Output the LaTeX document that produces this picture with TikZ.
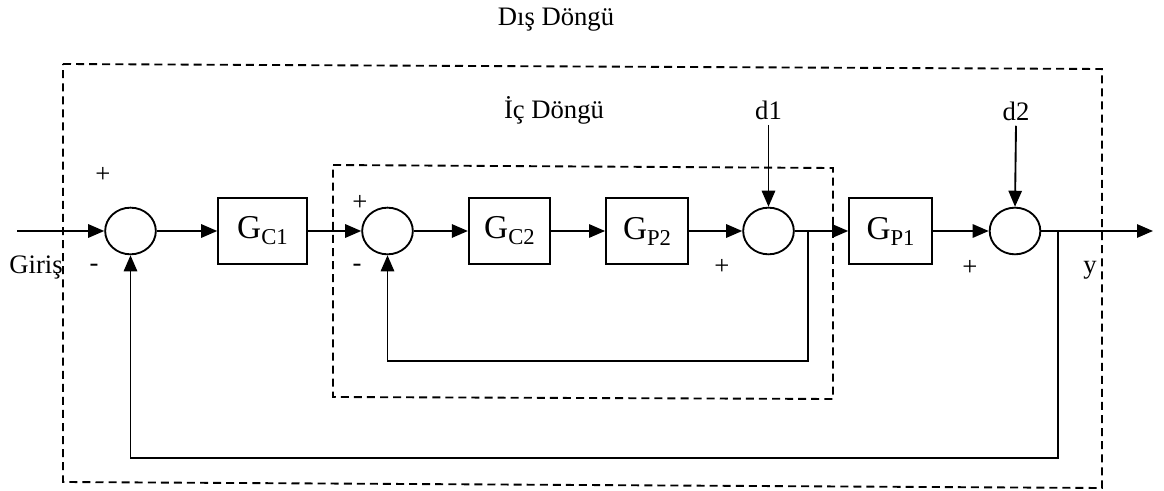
\documentclass[tikz,border=0pt]{standalone}
\usepackage{fontspec}
\setmainfont{Liberation Serif}
\usetikzlibrary{arrows.meta,positioning,shapes.geometric}
\newcommand{\tf}[2]{{\fontsize{25}{27}\selectfont #1}\raisebox{-4.5pt}{\fontsize{17}{19}\selectfont #2}}

\begin{document}
\begin{tikzpicture}[
  x=0.75pt, y=-0.75pt, line width=1.4pt,
  every node/.style={font=\fontsize{20}{22}\selectfont},
  sig/.style={draw, -{Triangle[length=12pt,width=10pt]}},
  sumnd/.style={ellipse, draw, minimum width=38pt, minimum height=35pt, inner sep=0pt},
  blk/.style={rectangle, draw, minimum height=50pt, inner sep=0pt},
  loopbox/.style={draw, dash pattern=on 6pt off 3.8pt},
  sgn/.style={font=\fontsize{20}{22}\selectfont, inner sep=0pt}
]
\useasboundingbox (0,0) rectangle (1164,491);

% loop frames
\draw[loopbox] (63,64) -- (1102,69) -- (1102,488) -- (63,482) -- cycle;
\draw[loopbox] (333,165) -- (833,168) -- (833,399) -- (333,397) -- cycle;
\node (outer) at (556,20) {Dış Döngü};
\node (inner) at (554,110) {İç Döngü};

% forward path
\coordinate (in) at (17,231);
\node[sumnd] (s1) at (130.5,231) {};
\node[blk, minimum width=66.5pt] (gc1) at (262.5,231) {\tf{G}{C1}};
\node[sumnd] (s2) at (387.5,231) {};
\node[blk, minimum width=61pt] (gc2) at (509.5,231) {\tf{G}{C2}};
\node[blk, minimum width=61.5pt] (gp2) at (647,231) {\tf{G}{P2}};
\node[sumnd] (s3) at (768.5,231) {};
\coordinate (b1) at (808,231);
\node[blk, minimum width=62pt] (gp1) at (890.5,231) {\tf{G}{P1}};
\node[sumnd] (s4) at (1015,231) {};
\coordinate (b2) at (1058,231);
\coordinate (out) at (1153,231);

\draw[sig] (in) -- (s1.west);
\draw[sig] (s1) -- (gc1);
\draw[sig] (gc1) -- (s2);
\draw[sig] (s2) -- (gc2);
\draw[sig] (gc2) -- (gp2);
\draw[sig] (gp2) -- (s3);
\draw[sig] (s3) -- (gp1);
\draw[sig] (gp1) -- (s4);
\draw[sig] (s4) -- (out);

% disturbances
\node (d1) at (768.5,110) {d1};
\node (d2) at (1016,111) {d2};
\draw[sig] (d1.south) -- (s3.north);
\draw[sig] (d2.south) -- (s4.north);

% feedback
\coordinate (fb1) at (808,361);
\coordinate (fb2) at (1058,458);
\draw[sig] (b1) -- (fb1) -| (s2.south);
\draw[sig] (b2) -- (fb2) -| (s1.south);

% signs
\node[sgn] (p1) at (103,175) {+};
\node[sgn] (m1) at (94,268) {-};
\node[sgn] (p2) at (360,203) {+};
\node[sgn] (m2) at (357,268) {-};
\node[sgn] (p3) at (722,267) {+};
\node[sgn] (p4) at (970,268) {+};
\node (giris) at (36,268) {Giriş};
\node (yout) at (1090,270) {y};
\end{tikzpicture}
\end{document}
